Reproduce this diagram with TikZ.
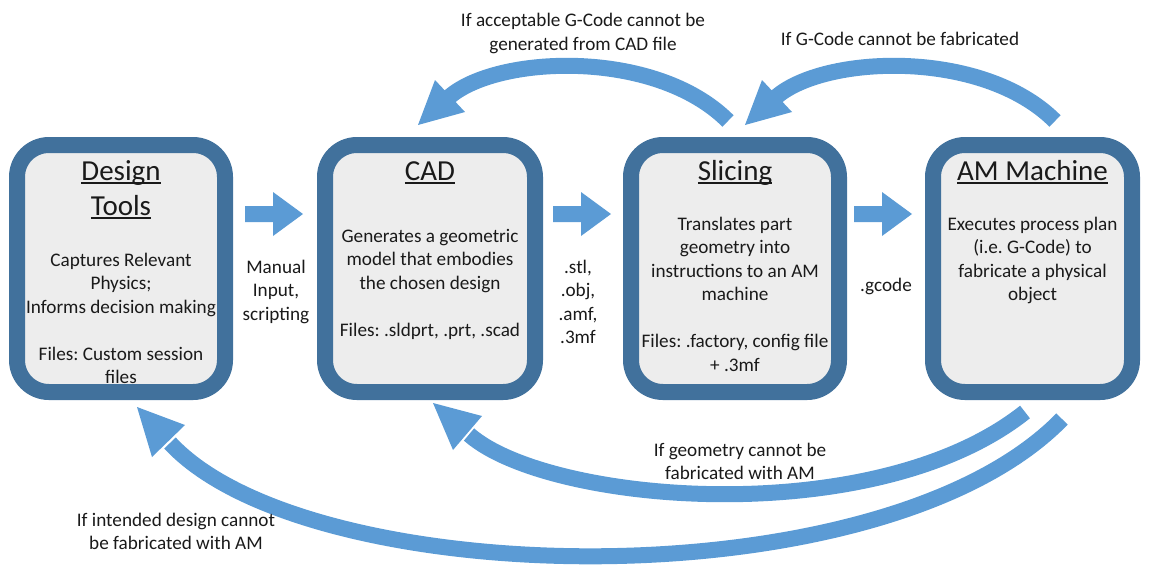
\documentclass[tikz,border=0pt]{standalone}
\usepackage{fontspec}
\setmainfont{Carlito}
\frenchspacing
\definecolor{boxborder}{HTML}{41719C}
\definecolor{boxfill}{HTML}{EDEDED}
\definecolor{arrowblue}{HTML}{5B9BD5}
\definecolor{txt}{HTML}{1A1A1A}
\newcommand\ulTitle[1]{\setbox0\hbox{#1}\rlap{\rule[-4pt]{\wd0}{2pt}}\box0}
\begin{document}
\begin{tikzpicture}[x=1pt,y=-1pt,
  box/.style={draw=boxborder, fill=boxfill, line width=16pt, rounded corners=32pt,
              minimum height=247pt, inner sep=0pt},
  body/.style={font=\fontsize{19.2}{23.5}\selectfont, align=center, anchor=base, text=txt, inner sep=0pt},
  titletext/.style={font=\fontsize{29}{35}\selectfont, align=center, anchor=base, text=txt, inner sep=0pt},
  band/.style={draw=arrowblue, line width=16pt},
  headfill/.style={fill=arrowblue},
  blockarrow/.pic={\fill[arrowblue] (-29,-8) -- (-1,-8) -- (-1,-22) -- (29,0) -- (-1,22) -- (-1,8) -- (-29,8) -- cycle;}
]
\useasboundingbox (0,0) rectangle (1151,566);

% boxes
\node[box, minimum width=208pt] (dt) at (121,268.5) {};
\node[box, minimum width=210pt] (cad) at (430,268.5) {};
\node[box, minimum width=208pt] (sl) at (735,268.5) {};
\node[box, minimum width=199pt] (am) at (1032.5,268.5) {};

% titles (anchor = baseline of last line)
\node[titletext] (dtT) at (121,215) {\ulTitle{Design}\\\ulTitle{Tools}};
\node[titletext] (cadT) at (430,180) {\ulTitle{CAD}};
\node[titletext] (slT) at (735,180) {\ulTitle{Slicing}};
\node[titletext] (amT) at (1032.5,180) {\ulTitle{AM Machine}};

% box bodies
\node[body] (dtB) at (121,383.5) {Captures Relevant\\Physics;\\Informs decision making\\[23.5pt]Files: Custom session\\files};
\node[body] (cadB) at (430,336) {Generates a geometric\\model that embodies\\the chosen design\\[23.5pt]Files: .sldprt, .prt, .scad};
\node[body] (slB) at (735,371) {Translates part\\geometry into\\instructions to an AM\\machine\\[23.5pt]Files: .factory, config file\\+ .3mf};
\node[body] (amB) at (1032.5,300.5) {Executes process plan\\(i.e. G-Code) to\\fabricate a physical\\object};

% forward block arrows
\pic at (274,214) {blockarrow};
\pic at (582,214) {blockarrow};
\pic at (883,214) {blockarrow};

% forward labels
\node[body] (l1) at (276,320) {Manual\\Input,\\scripting};
\node[body] (l2) at (578,343.5) {.stl,\\.obj,\\.amf,\\.3mf};
\node[body] (l3) at (886,291) {.gcode};

% feedback arrows
\coordinate (t1s) at (728,121);  \coordinate (t1e) at (448,98);
\coordinate (t2s) at (1055,121); \coordinate (t2e) at (775,98);
\coordinate (b1s) at (1025,412); \coordinate (b1e) at (469,434.5);
\coordinate (b2s) at (1062,419); \coordinate (b2e) at (170,443);

\draw[band] (t1s) .. controls (655,48) and (495,55) .. (t1e);
\fill[headfill] (418,125) -- (435,80) -- (465,112) -- cycle;
\draw[band] (t2s) .. controls (982,48) and (822,55) .. (t2e);
\fill[headfill] (745,125) -- (762,80) -- (792,112) -- cycle;
\draw[band] (b1s) .. controls (874.5,531.7) and (548,504) .. (b1e);
\fill[headfill] (433,403) -- (482,416) -- (453,450) -- cycle;
\draw[band] (b2s) .. controls (882,604) and (308,592) .. (b2e);
\fill[headfill] (137,407) -- (185,425) -- (152,457) -- cycle;

% feedback labels
\node[body] (f1) at (583,50) {If acceptable G-Code cannot be\\generated from CAD file};
\node[body] (f2) at (900,45) {If G-Code cannot be fabricated};
\node[body] (f3) at (740,479.5) {If geometry cannot be\\fabricated with AM};
\node[body] (f4) at (176,549.5) {If intended design cannot\\be fabricated with AM};
\end{tikzpicture}
\end{document}
